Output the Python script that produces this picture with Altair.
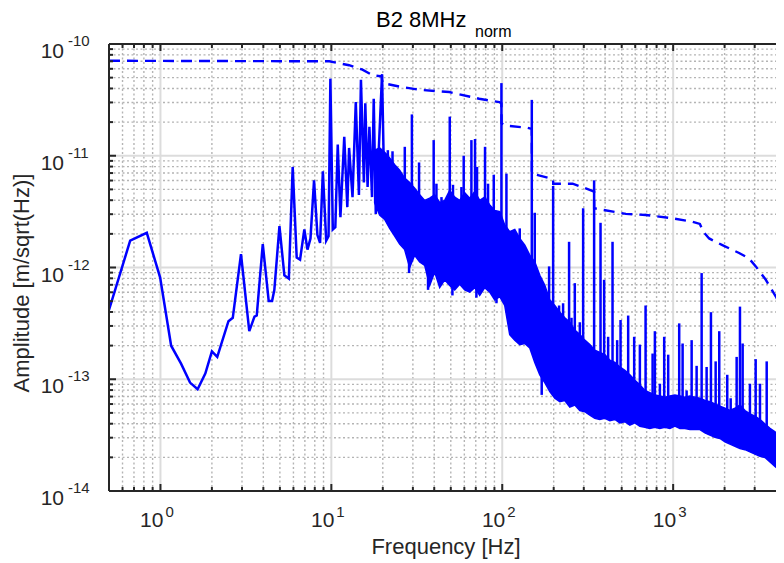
import altair as alt
import pandas as pd

W, H = 667, 447
BLUE = "#0000ff"
AX = "#262626"
FONT = "Liberation Sans"

# ---------------- data (amplitudes stored as log10 of m/sqrt(Hz)) ----------------
low_f = [0.5, 0.665, 0.832, 0.996, 1.155, 1.32, 1.49, 1.65, 1.83, 2.0, 2.15, 2.5, 2.65, 2.96,
         3.31, 3.55, 3.66, 3.97, 4.3, 4.5, 4.64, 4.97, 5.31, 5.64, 5.94, 6.27, 6.56, 6.95, 7.25,
         7.55, 7.92, 8.29, 8.59, 8.92, 9.33, 9.63, 9.87, 10.2, 10.55, 10.9, 11.3, 11.9, 12.4,
         12.7, 13.3, 13.9, 14.5, 14.9, 15.5, 15.8, 16.3, 16.7, 17.3, 17.7, 18.2, 18.9, 19.8, 20.4]
low_log = [-12.38, -11.76, -11.69, -12.09, -12.70, -12.86, -13.03, -13.09, -12.95, -12.75, -12.80,
           -12.48, -12.45, -11.88, -12.57, -12.44, -12.43, -11.79, -12.30, -12.30, -12.20, -11.63,
           -12.07, -12.10, -11.10, -11.91, -11.93, -11.66, -11.84, -11.74, -11.22, -11.71, -11.78,
           -11.14, -11.76, -11.72, -10.31, -11.66, -11.64, -10.90, -11.55, -10.83, -11.46, -10.93,
           -11.37, -10.52, -11.35, -10.32, -11.24, -10.53, -11.28, -10.74, -11.37, -10.49, -11.52,
           -10.98, -10.27, -11.30]

band_f = [17.92, 19.17, 20.51, 21.94, 23.47, 25.10, 26.85, 28.73, 30.73, 32.87, 35.17, 37.62,
          40.24, 43.05, 46.05, 49.26, 52.70, 56.37, 60.31, 64.51, 69.02, 73.83, 78.98, 84.49,
          90.39, 96.69, 103.4, 110.6, 118.4, 126.6, 135.5, 144.9, 155.0, 165.9, 177.4, 189.8,
          203.0, 217.2, 232.3, 248.5, 265.8, 284.4, 304.2, 325.4, 348.1, 372.4, 398.4, 426.2,
          456.0, 487.6, 521.7, 558.0, 597.0, 638.7, 683.2, 730.8, 781.9, 836.5, 894.8, 957.2,
          1023.8, 1095.3, 1171.7, 1253.5, 1341.0, 1434.6, 1534.5, 1641.6, 1756.2, 1878.8, 2009.9,
          2150.2, 2299.8, 2460.3, 2632.1, 2815.9, 3012.4, 3222.6, 3446.6, 3687.2, 3944.6, 4219.9,
          4514.4]
band_top_log = [-10.95, -10.93, -10.97, -11.02, -11.08, -11.13, -11.20, -11.24, -11.29, -11.35,
                -11.40, -11.38, -11.35, -11.42, -11.40, -11.31, -11.37, -11.40, -11.33, -11.38,
                -11.32, -11.40, -11.37, -11.44, -11.49, -11.50, -11.62, -11.68, -11.66, -11.74,
                -11.80, -11.89, -11.95, -12.07, -12.16, -12.29, -12.34, -12.40, -12.45, -12.49,
                -12.56, -12.60, -12.65, -12.69, -12.74, -12.76, -12.78, -12.83, -12.85, -12.89,
                -12.92, -12.96, -13.01, -13.05, -13.10, -13.12, -13.14, -13.15, -13.16, -13.15,
                -13.14, -13.15, -13.16, -13.15, -13.16, -13.17, -13.19, -13.20, -13.22, -13.24,
                -13.26, -13.28, -13.26, -13.23, -13.28, -13.31, -13.33, -13.36, -13.40, -13.44,
                -13.47, -13.52, -13.56]
band_bot_log = [-11.42, -11.53, -11.57, -11.65, -11.72, -11.79, -11.84, -12.00, -11.89, -11.95,
                -11.98, -12.16, -12.04, -12.18, -12.11, -12.16, -12.20, -12.15, -12.20, -12.22,
                -12.18, -12.25, -12.18, -12.22, -12.29, -12.26, -12.34, -12.60, -12.65, -12.69,
                -12.68, -12.72, -12.85, -12.96, -13.03, -13.11, -13.17, -13.20, -13.19, -13.25,
                -13.23, -13.28, -13.29, -13.32, -13.35, -13.36, -13.35, -13.37, -13.36, -13.39,
                -13.38, -13.41, -13.39, -13.42, -13.43, -13.44, -13.43, -13.44, -13.43, -13.44,
                -13.42, -13.44, -13.44, -13.45, -13.45, -13.45, -13.48, -13.50, -13.52, -13.53,
                -13.56, -13.58, -13.60, -13.62, -13.63, -13.65, -13.67, -13.69, -13.70, -13.74,
                -13.78, -13.82, -13.87]

spike_f = [18.7, 20.5, 21.4, 22.8, 23.5, 26.9, 29.6, 32.6, 39.7, 41.2, 44.1, 49.3, 51.5, 57.7,
           59.5, 66.0, 69.3, 71.2, 79.3, 82.6, 89.2, 98.9, 105.8, 126.6, 148.9, 155.0, 188.0,
           198.5, 215.1, 227.0, 246.1, 254.2, 265.8, 284.4, 297.4, 344.8, 375.9, 394.6, 416.5,
           441.9, 470.3, 492.3, 545.6, 591.5, 638.7, 689.8, 758.2, 781.9, 836.5, 886.4, 935.5,
           1085, 1136, 1199, 1283, 1372, 1468, 1570, 1664, 1773, 1861, 2073, 2171, 2353, 2460,
           2551, 2814, 3040, 3222, 3527,
           28.5, 36.8, 51.1, 70.6, 92.5, 170.2]
spike_peak_log = [-11.01, -10.98, -10.95, -10.96, -11.10, -10.92, -10.63, -11.06, -10.86, -11.25,
                  -11.37, -10.65, -11.26, -11.28, -11.00, -10.86, -10.85, -11.10, -10.92, -11.25,
                  -11.17, -10.35, -11.16, -11.65, -10.50, -11.51, -11.99, -11.27, -12.34, -12.32,
                  -11.77, -12.45, -12.14, -12.49, -11.47, -11.22, -11.60, -12.11, -12.62, -11.77,
                  -12.65, -12.47, -12.43, -12.62, -12.69, -12.34, -12.77, -12.57, -13.04, -12.62,
                  -12.78, -12.50, -12.68, -13.10, -12.65, -12.88, -12.05, -12.89, -12.40, -12.84,
                  -12.57, -12.96, -13.17, -12.80, -12.35, -12.68, -13.04, -12.82, -13.04, -12.84,
                  -12.05, -12.20, -12.25, -12.27, -12.32, -13.14]
spike_base_log = [-11.3, -11.3, -11.3, -11.4, -11.4, -11.5, -11.5, -11.6, -11.7, -11.7,
                  -11.7, -11.7, -11.7, -11.7, -11.7, -11.7, -11.7, -11.7, -11.7, -11.8,
                  -11.8, -11.8, -12.0, -12.2, -12.2, -12.4, -12.6, -12.7, -12.8, -12.8,
                  -12.8, -12.9, -12.9, -12.9, -12.9, -13.0, -13.0, -13.1, -13.1, -13.1,
                  -13.1, -13.1, -13.2, -13.2, -13.2, -13.3, -13.3, -13.3, -13.3, -13.3,
                  -13.3, -13.3, -13.3, -13.3, -13.3, -13.3, -13.3, -13.35, -13.35, -13.35,
                  -13.4, -13.4, -13.4, -13.4, -13.45, -13.45, -13.5, -13.5, -13.5, -13.55,
                  -11.7, -11.9, -12.0, -12.0, -12.0, -12.8]

cum_f = [0.5, 9.73, 12.7, 15.2, 17.5, 19.7, 19.9, 24.9, 32.7, 49.0, 73.3, 96.2, 98.9, 99.1, 105,
         140.6, 148.9, 149.1, 188, 198.5, 198.7, 258, 344.8, 345.0, 529, 692, 991, 1297, 1434,
         1500, 1624, 1942, 2432, 2782, 3045, 3485, 3990, 4357, 4600]
cum_log = [-10.15, -10.155, -10.19, -10.23, -10.28, -10.29, -10.35, -10.38, -10.41, -10.43,
           -10.49, -10.52, -10.53, -10.71, -10.73, -10.75, -10.76, -11.16, -11.20, -11.21, -11.25,
           -11.25, -11.32, -11.47, -11.52, -11.53, -11.56, -11.59, -11.61, -11.68, -11.74, -11.80,
           -11.87, -11.92, -11.99, -12.11, -12.26, -12.38, -12.45]

x_major = [1, 10, 100, 1000]
x_major_exp = ["0", "1", "2", "3"]
x_minor = [0.6, 0.7, 0.8, 0.9, 2, 3, 4, 5, 6, 7, 8, 9, 20, 30, 40, 50, 60, 70, 80, 90,
           200, 300, 400, 500, 600, 700, 800, 900, 2000, 3000]
y_major = [1e-14, 1e-13, 1e-12, 1e-11, 1e-10]
y_major_exp = ["-14", "-13", "-12", "-11", "-10"]
y_minor = [k * 10.0 ** e for e in range(-14, -10) for k in range(2, 10)]

# ---------------- tables ----------------
low_df = pd.DataFrame({"f": low_f, "a": [10 ** v for v in low_log]})
band_df = pd.DataFrame({"f": band_f,
                        "hi": [10 ** v for v in band_top_log],
                        "lo": [10 ** v for v in band_bot_log]})
spike_df = pd.DataFrame({"f": spike_f,
                         "p": [10 ** v for v in spike_peak_log],
                         "b": [10 ** v for v in spike_base_log]})
cum_df = pd.DataFrame({"f": cum_f, "a": [10 ** v for v in cum_log]})
xmaj_df = pd.DataFrame({"v": x_major, "base": ["10"] * 4, "exp": x_major_exp})
xmin_df = pd.DataFrame({"v": x_minor})
ymaj_df = pd.DataFrame({"v": y_major, "base": ["10"] * 5, "exp": y_major_exp})
ymin_df = pd.DataFrame({"v": y_minor})
one = pd.DataFrame({"k": [0]})

xs = alt.Scale(type="log", domain=[0.5, 3998])
ys = alt.Scale(type="log", domain=[1e-14, 1e-10])


def X(field):
    return alt.X(f"{field}:Q", scale=xs, axis=None)


def Y(field):
    return alt.Y(f"{field}:Q", scale=ys, axis=None)


def vrules(df, y0, y1, **mk):
    return alt.Chart(df).mark_rule(**mk).encode(x=X("v"), y=alt.value(y0), y2=alt.value(y1))


def hrules(df, x0, x1, **mk):
    return alt.Chart(df).mark_rule(**mk).encode(y=Y("v"), x=alt.value(x0), x2=alt.value(x1))


def label(txt, x, y, size, align="center", angle=0, color=AX):
    return alt.Chart(pd.DataFrame({"t": [txt]})).mark_text(
        align=align, baseline="alphabetic", fontSize=size, font=FONT, color=color, angle=angle
    ).encode(x=alt.value(x), y=alt.value(y), text="t:N")


minor_style = dict(color="#b4b4b4", strokeWidth=1.4, strokeDash=[2, 2.5])
major_style = dict(color="#dcdcdc", strokeWidth=2)
tick_style = dict(color=AX, strokeWidth=2)

layers = [
    vrules(xmin_df, 0, H, **minor_style),
    hrules(ymin_df, 0, W, **minor_style),
    vrules(pd.DataFrame({"v": x_major}), 0, H, **major_style),
    hrules(pd.DataFrame({"v": y_major}), 0, W, **major_style),
    alt.Chart(band_df).mark_area(color=BLUE, clip=True, stroke=BLUE, strokeWidth=1.5).encode(
        x=X("f"), y=Y("lo"), y2="hi:Q"),
    alt.Chart(spike_df).mark_rule(color=BLUE, strokeWidth=2.5, clip=True).encode(
        x=X("f"), y=Y("b"), y2="p:Q"),
    alt.Chart(low_df).mark_line(color=BLUE, strokeWidth=2.5, clip=True).encode(x=X("f"), y=Y("a")),
    alt.Chart(cum_df).mark_line(color=BLUE, strokeWidth=2.4, strokeDash=[11, 7], clip=True).encode(
        x=X("f"), y=Y("a")),
    # frame
    alt.Chart(one).mark_rule(**tick_style).encode(x=alt.value(0), x2=alt.value(W), y=alt.value(0)),
    alt.Chart(one).mark_rule(**tick_style).encode(x=alt.value(0), x2=alt.value(W), y=alt.value(H)),
    alt.Chart(one).mark_rule(**tick_style).encode(x=alt.value(0), y=alt.value(0), y2=alt.value(H)),
    # inward ticks
    vrules(xmaj_df, H, H - 7, **tick_style),
    vrules(xmin_df, H, H - 4, **tick_style),
    vrules(xmaj_df, 0, 7, **tick_style),
    vrules(xmin_df, 0, 4, **tick_style),
    hrules(ymaj_df, 0, 7, **tick_style),
    hrules(ymin_df, 0, 4, **tick_style),
    # tick labels
    alt.Chart(xmaj_df).mark_text(align="right", baseline="alphabetic", fontSize=21, font=FONT,
                                 color=AX, dx=3).encode(x=X("v"), y=alt.value(H + 36), text="base:N"),
    alt.Chart(xmaj_df).mark_text(align="left", baseline="alphabetic", fontSize=15, font=FONT,
                                 color=AX, dx=5).encode(x=X("v"), y=alt.value(H + 26), text="exp:N"),
    alt.Chart(ymaj_df).mark_text(align="right", baseline="alphabetic", fontSize=21, font=FONT,
                                 color=AX, dy=14).encode(y=Y("v"), x=alt.value(-45), text="base:N"),
    alt.Chart(ymaj_df).mark_text(align="left", baseline="alphabetic", fontSize=15, font=FONT,
                                 color=AX, dy=2).encode(y=Y("v"), x=alt.value(-41), text="exp:N"),
    # titles
    label("Frequency [Hz]", 337, H + 63, 22),
    label("Amplitude [m/sqrt(Hz)]", -80, 239, 22, angle=270),
    label("B2 8MHz", 267, -17, 22, align="left", color="#000000"),
    label("norm", 366, -7, 16, align="left", color="#000000"),
]

chart = alt.layer(*layers).properties(
    width=W, height=H,
    padding={"left": 101, "top": 36, "right": 0, "bottom": 70},
    autosize=alt.AutoSizeParams(type="none"),
    background="white",
).configure_view(stroke=None)

chart.save("out.html", embed_options={"renderer": "svg", "actions": False})
